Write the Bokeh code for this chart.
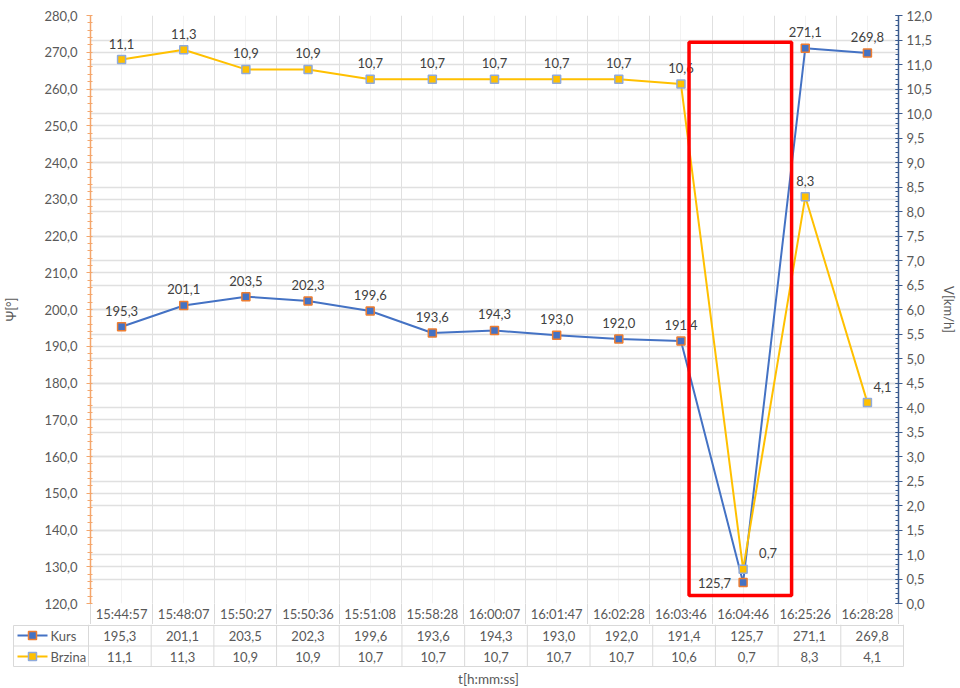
from bokeh.plotting import figure
from bokeh.models import (Range1d, LinearAxis, SingleIntervalTicker, FixedTicker, Grid,
                          CustomJSTickFormatter, BoxAnnotation, ColumnDataSource, Label)
from bokeh.core.properties import value
from bokeh.embed import file_html
from bokeh.resources import INLINE

# ---------------- data ----------------
times = ["15:44:57", "15:48:07", "15:50:27", "15:50:36", "15:51:08", "15:58:28", "16:00:07",
         "16:01:47", "16:02:28", "16:03:46", "16:04:46", "16:25:26", "16:28:28"]
kurs = [195.3, 201.1, 203.5, 202.3, 199.6, 193.6, 194.3, 193.0, 192.0, 191.4, 125.7, 271.1, 269.8]
brzina = [11.1, 11.3, 10.9, 10.9, 10.7, 10.7, 10.7, 10.7, 10.7, 10.6, 0.7, 8.3, 4.1]
series_names = ["Kurs", "Brzina"]
kurs_axis = (120, 280)
brzina_axis = (0, 12)
highlight_time = "16:04:46"

# ---------------- style ----------------
FONT = "Lato"
FS = "13px"
TXT = "#595959"
LBL = "#404040"
BLUE = "#4472c4"
YELLOW = "#ffc000"
ORANGE = "#ed7d31"
LAXIS = "#f4a66c"
RAXIS = "#3b5b8f"
GRID = "#e0e0e0"
GRID_LIGHT = "#f2f2f2"
TABLE = "#d9d9d9"

n = len(times)
xs = [i + 0.5 for i in range(n)]


def fmt(v):
    return f"{v:.1f}".replace(".", ",")


FIG_W = 960
BL, BR = 88, 57
U = (FIG_W - BL - BR) / n  # px per category
TOP_H = 624

tick_fmt = CustomJSTickFormatter(code="return tick.toFixed(1).replace('.', ',');")

p = figure(width=FIG_W, height=TOP_H, x_range=Range1d(0, n), y_range=Range1d(*kurs_axis),
           min_border_left=BL, min_border_right=BR, min_border_top=15, min_border_bottom=21,
           toolbar_location=None, output_backend="svg", outline_line_color=None)
p.extra_y_ranges = {"v": Range1d(*brzina_axis)}

# left axis
lt = SingleIntervalTicker(interval=10, num_minor_ticks=5)
ya = p.yaxis[0]
ya.ticker = lt
ya.formatter = tick_fmt
ya.axis_label = "Ψ[°]"
ya.axis_label_standoff = 22
ya.axis_label_text_font = FONT
ya.axis_label_text_font_style = "normal"
ya.axis_label_text_font_size = FS
ya.axis_label_text_color = TXT
ya.major_label_text_font = FONT
ya.major_label_text_font_size = FS
ya.major_label_text_color = TXT
ya.major_label_standoff = 9
ya.axis_line_color = LAXIS
ya.axis_line_width = 1.5
ya.major_tick_line_color = LAXIS
ya.major_tick_out = 4
ya.major_tick_in = 0
ya.minor_tick_line_color = LAXIS
ya.minor_tick_in = 2
ya.minor_tick_out = 3

# right axis
rt = SingleIntervalTicker(interval=0.5, num_minor_ticks=5)
ra = LinearAxis(y_range_name="v", ticker=rt, formatter=tick_fmt, axis_label="V[km/h]")
ra.axis_label_standoff = 6
ra.axis_label_text_font = FONT
ra.axis_label_text_font_style = "normal"
ra.axis_label_text_font_size = FS
ra.axis_label_text_color = TXT
ra.major_label_text_font = FONT
ra.major_label_text_font_size = FS
ra.major_label_text_color = TXT
ra.major_label_standoff = 4
ra.axis_line_color = RAXIS
ra.axis_line_width = 1.5
ra.major_tick_line_color = RAXIS
ra.major_tick_out = 4
ra.major_tick_in = 3
ra.minor_tick_line_color = RAXIS
ra.minor_tick_in = 3
ra.minor_tick_out = 0
p.add_layout(ra, "right")

# x axis: time labels (first row of the data table); minor ticks draw the cell borders
xa = p.xaxis[0]
xa.ticker = FixedTicker(ticks=xs, minor_ticks=list(range(n + 1)))
xa.formatter = CustomJSTickFormatter(args=dict(labels=times),
                                     code="return labels[Math.floor(tick)];")
xa.axis_line_color = None
xa.major_tick_line_color = None
xa.major_tick_out = 0
xa.major_tick_in = 0
xa.minor_tick_line_color = TABLE
xa.minor_tick_out = 21
xa.minor_tick_in = 0
xa.major_label_standoff = -19
xa.major_label_text_font = FONT
xa.major_label_text_font_size = FS
xa.major_label_text_color = TXT

# grids
p.xgrid.ticker = FixedTicker(ticks=list(range(n + 1)), minor_ticks=xs)
p.xgrid.grid_line_color = GRID
p.xgrid.minor_grid_line_color = GRID_LIGHT
p.ygrid.ticker = lt
p.ygrid.grid_line_color = GRID
p.ygrid.grid_line_width = 1.5
rg = Grid(dimension=1, ticker=rt, y_range_name="v", grid_line_color=GRID, grid_line_width=1.5)
p.add_layout(rg, "center")

# series
ks = ColumnDataSource(dict(x=xs, y=kurs, t=[fmt(v) for v in kurs]))
bs = ColumnDataSource(dict(x=xs, y=brzina, t=[fmt(v) for v in brzina]))

p.line("x", "y", source=ks, line_color=BLUE, line_width=2)
p.scatter("x", "y", source=ks, marker="square", size=8, fill_color=BLUE,
          line_color=ORANGE, line_width=1.5)
p.line("x", "y", source=bs, line_color=YELLOW, line_width=2, y_range_name="v")
p.scatter("x", "y", source=bs, marker="square", size=8, fill_color=YELLOW,
          line_color="#8faadc", line_width=1.5, y_range_name="v")

# data labels: above by default, with a few Excel-style moved labels
hi = times.index(highlight_time)


def label_layout(count, special):
    xo, yo, al = [], [], []
    for i in range(count):
        dx, dy, a = special.get(i, (0, -16, "center"))
        xo.append(dx)
        yo.append(dy)
        al.append(a)
    return xo, yo, al


kxo, kyo, kal = label_layout(n, {hi: (-12, 0, "right")})
bxo, byo, bal = label_layout(n, {hi: (16, -16, "left"), n - 1: (6, -16, "left")})
ks.data.update(xo=kxo, yo=kyo, al=kal)
bs.data.update(xo=bxo, yo=byo, al=bal)

p.text("x", "y", text="t", source=ks, x_offset="xo", y_offset="yo", text_align="al",
       text_baseline="middle", text_font=value(FONT), text_font_size=FS, text_color=LBL)
p.text("x", "y", text="t", source=bs, x_offset="xo", y_offset="yo", text_align="al",
       text_baseline="middle", text_font=value(FONT), text_font_size=FS, text_color=LBL,
       y_range_name="v")

# highlight box around the anomalous point
box = BoxAnnotation(left=hi - 0.37, right=hi + 1.28, top=272.7, bottom=122.2,
                    fill_alpha=0, line_color="#ff0000", line_alpha=1.0, line_width=3.5)
p.add_layout(box)

# ---------------- data table below ----------------
TB_TOP = TOP_H
TB_H = 688 - TB_TOP
tb = figure(width=FIG_W, height=TB_H, x_range=Range1d(-BL / U, n + BR / U),
            y_range=Range1d(TB_TOP + TB_H, TB_TOP), min_border=0, x_axis_type=None,
            y_axis_type=None, toolbar_location=None, output_backend="svg",
            outline_line_color=None)
tb.xgrid.visible = False
tb.ygrid.visible = False


def px_x(page_x):
    return (page_x - BL) / U


left_edge = px_x(13)
row_lines = [625, 645.5, 666]
row_mid = [635, 656]

tb.segment(x0=[left_edge] * 3, x1=[n] * 3, y0=row_lines, y1=row_lines,
           line_color=TABLE, line_width=1)
vx = list(range(n + 1))
tb.segment(x0=vx, x1=vx, y0=[TB_TOP] * len(vx), y1=[row_lines[-1]] * len(vx),
           line_color=TABLE, line_width=1)
tb.segment(x0=[left_edge], x1=[left_edge], y0=[row_lines[0]], y1=[row_lines[-1]],
           line_color=TABLE, line_width=1)

tb.text(x=xs, y=[row_mid[0]] * n, text=[fmt(v) for v in kurs], text_align="center",
        text_baseline="middle", text_font=value(FONT), text_font_size=FS, text_color=TXT)
tb.text(x=xs, y=[row_mid[1]] * n, text=[fmt(v) for v in brzina], text_align="center",
        text_baseline="middle", text_font=value(FONT), text_font_size=FS, text_color=TXT)

# legend keys in the table
lx0, lx1, lm, lt_x = px_x(17), px_x(47), px_x(32), px_x(50)
tb.segment(x0=[lx0], x1=[lx1], y0=[row_mid[0]], y1=[row_mid[0]], line_color=BLUE, line_width=2)
tb.scatter(x=[lm], y=[row_mid[0]], marker="square", size=8, fill_color=BLUE,
           line_color=ORANGE, line_width=1.5)
tb.segment(x0=[lx0], x1=[lx1], y0=[row_mid[1]], y1=[row_mid[1]], line_color=YELLOW, line_width=2)
tb.scatter(x=[lm], y=[row_mid[1]], marker="square", size=8, fill_color=YELLOW,
           line_color="#8faadc", line_width=1.5)
tb.text(x=[lt_x, lt_x], y=row_mid, text=series_names, text_align="left",
        text_baseline="middle", text_font=value(FONT), text_font_size=FS, text_color=TXT)

tb.add_layout(Label(x=n / 2 - 0.12, y=678, text="t[h:mm:ss]", text_align="center",
                    text_baseline="middle", text_font=FONT, text_font_size="13.5px",
                    text_color=TXT))

open("out.html", "w").write(file_html([p, tb], INLINE))
